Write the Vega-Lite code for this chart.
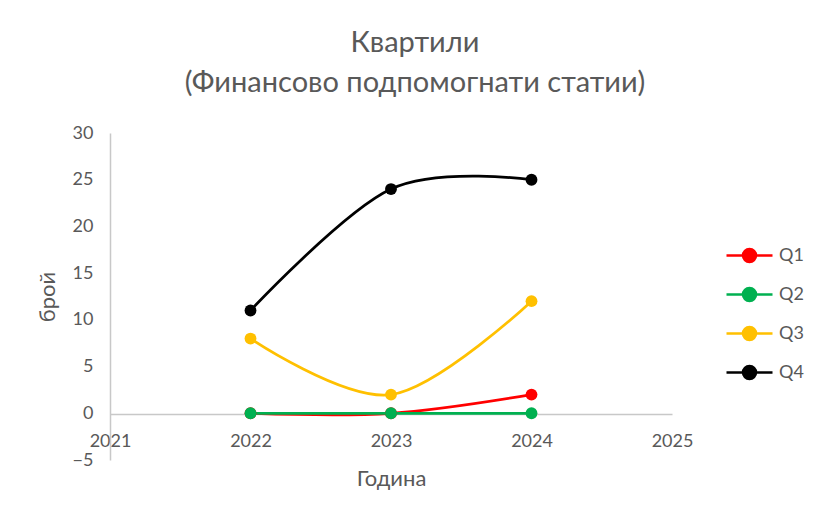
{
  "$schema": "https://vega.github.io/schema/vega-lite/v6.json",
  "autosize": "none",
  "width": 562,
  "height": 327,
  "padding": {"left": 110, "top": 133, "right": 142, "bottom": 54},
  "background": "white",
  "config": {
    "view": {"stroke": null},
    "font": "Lato",
    "axis": {"labelColor": "#595959", "titleColor": "#595959", "labelFont": "Lato", "titleFont": "Lato", "labelFontWeight": "normal", "titleFontWeight": "normal", "titleFontSize": 22, "labelFontSize": 18}
  },
  "title": {
    "text": ["Квартили", "(Финансово подпомогнати статии)"],
    "fontSize": 29,
    "font": "Lato",
    "fontWeight": "normal",
    "color": "#595959",
    "anchor": "middle",
    "lineHeight": 40,
    "offset": 26,
    "dx": 24
  },
  "data": {
    "values": [
      {"year": 2022, "series": "Q1", "value": 0},
      {"year": 2023, "series": "Q1", "value": 0},
      {"year": 2024, "series": "Q1", "value": 2},
      {"year": 2022, "series": "Q2", "value": 0},
      {"year": 2023, "series": "Q2", "value": 0},
      {"year": 2024, "series": "Q2", "value": 0},
      {"year": 2022, "series": "Q3", "value": 8},
      {"year": 2023, "series": "Q3", "value": 2},
      {"year": 2024, "series": "Q3", "value": 12},
      {"year": 2022, "series": "Q4", "value": 11},
      {"year": 2023, "series": "Q4", "value": 24},
      {"year": 2024, "series": "Q4", "value": 25}
    ]
  },
  "encoding": {
    "x": {
      "field": "year", "type": "quantitative",
      "scale": {"domain": [2021, 2025], "nice": false, "zero": false},
      "axis": {
        "title": "Година", "values": [2021, 2022, 2023, 2024, 2025], "format": "d",
        "grid": false, "ticks": false, "offset": -46, "domainColor": "#C8C8C8", "domainWidth": 1.5,
        "labelFontSize": 18, "labelPadding": 18, "labelFlush": false, "labelOverlap": false,
        "titleFontSize": 22, "titlePadding": 18
      }
    },
    "y": {
      "field": "value", "type": "quantitative",
      "scale": {"domain": [-5, 30], "nice": false, "zero": false},
      "axis": {
        "title": "брой", "values": [-5, 0, 5, 10, 15, 20, 25, 30],
        "grid": false, "ticks": false, "domainColor": "#C8C8C8", "domainWidth": 1.5,
        "labelFontSize": 18, "labelPadding": 17,
        "titleFontSize": 22, "titlePadding": 13
      }
    },
    "color": {
      "field": "series", "type": "nominal",
      "scale": {"domain": ["Q1", "Q2", "Q3", "Q4"], "range": ["#FF0000", "#00B050", "#FFC000", "#000000"]},
      "legend": {
        "title": null,
        "orient": "none",
        "legendX": 628,
        "legendY": 111,
        "symbolType": "M-2.3,0H2.3M-0.65,0A0.65,0.65 0 1,1 0.65,0A0.65,0.65 0 1,1 -0.65,0",
        "symbolSize": 400,
        "symbolStrokeWidth": 2.5,
        "labelFontSize": 18,
        "labelColor": "#595959",
        "labelFont": "Lato",
        "labelOffset": 18,
        "rowPadding": 16,
        "encode": {
          "symbols": {"update": {"fill": {"scale": "color", "field": "value"}, "stroke": {"scale": "color", "field": "value"}, "opacity": {"value": 1}}}
        }
      }
    },
    "detail": {"field": "series"}
  },
  "layer": [
    {"mark": {"type": "line", "interpolate": "cardinal", "tension": 0, "strokeWidth": 2.75}},
    {"mark": {"type": "point", "filled": true, "size": 140, "opacity": 1}}
  ]
}
